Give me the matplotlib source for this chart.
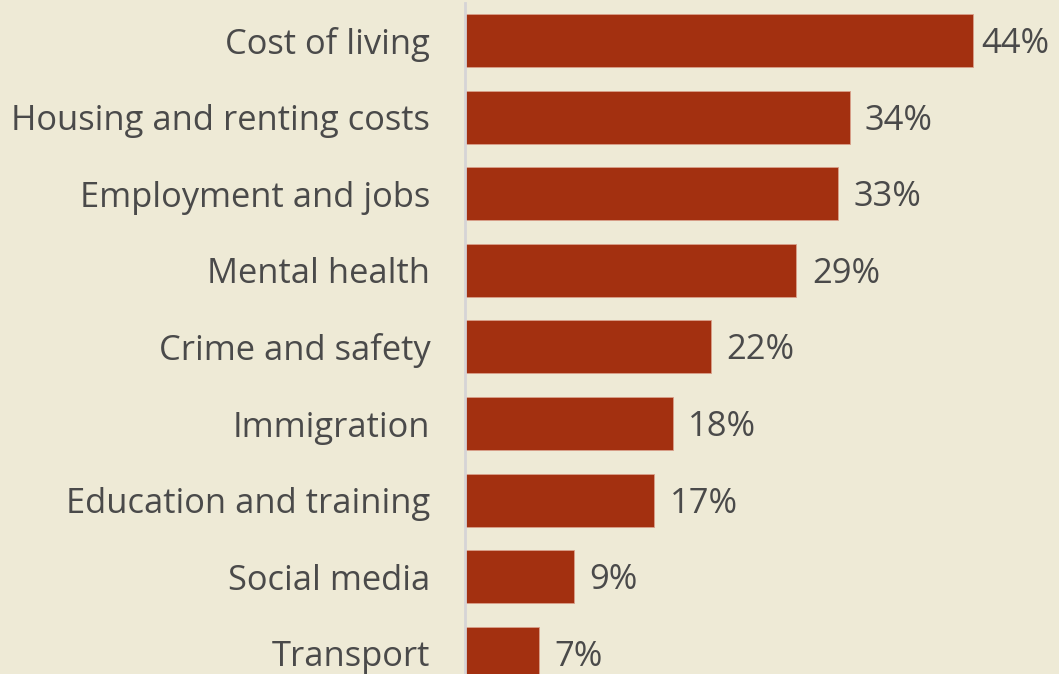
import matplotlib
matplotlib.use("Agg")
import matplotlib.pyplot as plt

categories = ["Cost of living", "Housing and renting costs", "Employment and jobs",
              "Mental health", "Crime and safety", "Immigration",
              "Education and training", "Social media", "Transport"]
values = [44.0, 33.3, 32.3, 28.7, 21.3, 18.0, 16.4, 9.4, 6.4]
value_labels = ["44%", "34%", "33%", "29%", "22%", "18%", "17%", "9%", "7%"]

BG = "#EEEAD6"
BAR = "#A33010"
TXT = "#4A4A4A"

plt.rcParams['font.family'] = ['Open Sans', 'DejaVu Sans']

W, H = 1059, 674
fig = plt.figure(figsize=(W / 100, H / 100), dpi=100, facecolor=BG)
ax = fig.add_axes([465 / W, 0, 1 - 465 / W, 1 - 3 / H])
ax.set_facecolor(BG)

pitch = 76.6
c0 = 40.5
px_per = 11.55
ys = list(range(len(categories)))
ax.barh(ys, values, height=53 / pitch, color=BAR, edgecolor="#D9A08A", linewidth=0.6)

ax.set_xlim(0, (W - 465) / px_per)
ax.set_ylim((H - c0) / pitch, -(c0 - 3) / pitch)

ax.set_yticks(ys)
ax.set_yticklabels(categories, fontsize=24.8, color=TXT)
ax.tick_params(axis='y', length=0, pad=25)
ax.set_xticks([])

for s in ["top", "right", "bottom"]:
    ax.spines[s].set_visible(False)
ax.spines["left"].set_color("#D6D4D6")
ax.spines["left"].set_linewidth(2)

for y, v, lab in zip(ys, values, value_labels):
    off = 6 if v > 40 else 11
    ax.annotate(lab, xy=(v, y), xytext=(off, -2.5), textcoords="offset points",
                va="center", ha="left", fontsize=24.8, color=TXT)

fig.savefig("out.png", dpi=100, facecolor=BG)
